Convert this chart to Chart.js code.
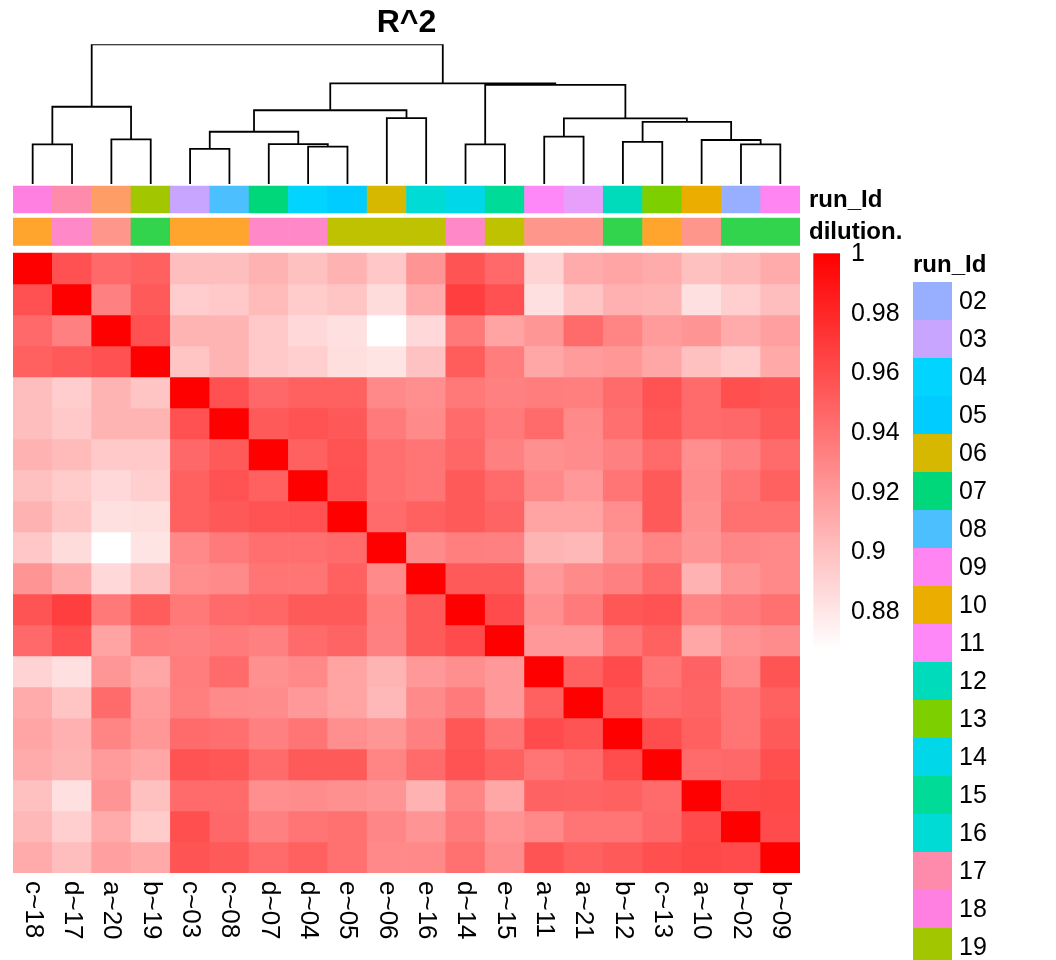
<!DOCTYPE html>
<html><head><meta charset="utf-8">
<script src="https://cdn.jsdelivr.net/npm/chart.js@4.4.0/dist/chart.umd.min.js"></script>
<style>html,body{margin:0;padding:0;background:#fff;}canvas{display:block;}</style>
</head><body>
<canvas id="c" width="1056" height="960"></canvas>
<script>
// ---------------- data ----------------
const sampleLabels = ['c~18','d~17','a~20','b~19','c~03','c~08','d~07','d~04','e~05','e~06','e~16','d~14','e~15','a~11','a~21','b~12','c~13','a~10','b~02','b~09'];
const runIds = ['18','17','20','19','03','08','07','04','05','06','16','14','15','11','21','12','13','10','02','09'];
const dilutions = ['c','d','a','b','c','c','d','d','e','e','e','d','e','a','a','b','c','a','b','b'];
const r2Values = [
 [1,.958,.945,.950,.901,.901,.907,.900,.907,.896,.923,.956,.945,.890,.911,.914,.911,.900,.904,.911],
 [.958,1,.933,.953,.893,.895,.903,.894,.898,.885,.911,.967,.958,.883,.897,.908,.906,.883,.892,.901],
 [.945,.933,1,.958,.906,.906,.895,.887,.883,.867,.887,.937,.915,.922,.944,.931,.919,.923,.911,.917],
 [.950,.953,.958,1,.897,.906,.895,.892,.884,.881,.899,.952,.935,.913,.919,.921,.913,.900,.894,.912],
 [.901,.893,.906,.897,1,.958,.946,.950,.950,.929,.926,.937,.933,.935,.934,.944,.957,.944,.959,.956],
 [.901,.895,.906,.906,.958,1,.953,.957,.954,.936,.928,.944,.936,.944,.928,.942,.955,.944,.946,.953],
 [.907,.903,.895,.895,.946,.953,1,.950,.957,.942,.939,.947,.933,.925,.927,.933,.944,.926,.933,.944],
 [.900,.894,.887,.892,.950,.957,.950,1,.958,.942,.939,.953,.944,.929,.920,.939,.953,.927,.939,.950],
 [.907,.898,.883,.884,.950,.954,.957,.958,1,.944,.950,.953,.948,.915,.915,.926,.953,.925,.941,.941],
 [.896,.885,.867,.881,.929,.936,.942,.942,.944,1,.928,.934,.933,.906,.904,.922,.931,.923,.930,.929],
 [.923,.911,.887,.899,.926,.928,.939,.939,.950,.928,1,.953,.953,.920,.928,.933,.944,.907,.923,.929],
 [.956,.967,.937,.952,.937,.944,.947,.953,.953,.934,.953,1,.961,.926,.936,.955,.957,.931,.936,.941],
 [.945,.958,.915,.935,.933,.936,.933,.944,.948,.933,.953,.961,1,.920,.920,.939,.950,.913,.924,.927],
 [.890,.883,.922,.913,.935,.944,.925,.929,.915,.906,.920,.926,.920,1,.950,.961,.939,.949,.929,.956],
 [.911,.897,.944,.919,.934,.928,.927,.920,.915,.904,.928,.936,.920,.950,1,.956,.944,.948,.939,.950],
 [.914,.908,.931,.921,.944,.942,.933,.939,.926,.922,.933,.955,.939,.961,.956,1,.960,.950,.939,.953],
 [.911,.906,.919,.913,.957,.955,.944,.953,.953,.931,.944,.957,.950,.939,.944,.960,1,.944,.946,.959],
 [.900,.883,.923,.900,.944,.944,.926,.927,.925,.923,.907,.931,.913,.949,.948,.950,.944,1,.961,.962],
 [.904,.892,.911,.894,.959,.946,.933,.939,.941,.930,.923,.936,.924,.929,.939,.939,.946,.961,1,.961],
 [.911,.901,.917,.912,.956,.953,.944,.950,.941,.929,.929,.941,.927,.956,.950,.953,.959,.962,.961,1]
];
const runIdLevels = ['02','03','04','05','06','07','08','09','10','11','12','13','14','15','16','17','18','19','20','21'];
const runIdColors = ['#98AEFF','#C8A5FF','#00D4FF','#00CCFF','#D6B800','#00D67A','#4CC0FF','#FF85F2','#EBAE00','#FF88F8','#00DBBB','#7DCF00','#00D8EA','#00DB97','#00DBD5','#FF8BAC','#FF80E0','#A2C700','#FF9D66','#E89EFB'];
const dilutionLevels = ['a','b','c','d','e'];
const dilutionColors = ['#FF968C','#33D44D','#FFA52E','#FF88C8','#BFC200'];
// hclust-style merges: negative = leaf (1-based display order), positive = earlier merge
const dendroMerge = [[-5,-6],[-8,-9],[-1,-2],[-12,-13],[-19,-20],[-7,2],[-16,-17],[-18,5],[-3,-4],[-14,-15],[1,6],[7,8],[10,12],[-10,-11],[11,14],[3,9],[4,13],[15,17],[16,18]];
const dendroHeight = [0.251,0.267,0.284,0.284,0.284,0.286,0.301,0.315,0.320,0.339,0.374,0.444,0.470,0.472,0.528,0.553,0.709,0.721,1.000];
const legendTicks = [1,0.98,0.96,0.94,0.92,0.9,0.88];
const colorMin = 0.867, colorMax = 1;
const titleText = 'R^2';

// ---------------- layout ----------------
const FONT = '"Liberation Sans", Arial, Helvetica, sans-serif';
const area = {left:13, right:800, top:44.3, bottom:873};
const rowPx = 31;
const yMax = (area.bottom - area.top) / rowPx;
const toUnit = px => (area.bottom - px) / rowPx;
const runBand = [toUnit(213), toUnit(186)];
const dilBand = [toUnit(245.5), toUnit(218)];
const leafPx = 184;
const ydMin = 1 - (area.bottom - area.top) / (leafPx - area.top);

function heatColor(v){
  const t = Math.max(0, Math.min(1, (v - colorMin) / (colorMax - colorMin)));
  const g = Math.round(255 * (1 - t));
  return 'rgb(255,' + g + ',' + g + ')';
}

const n = sampleLabels.length;
const datasets = [];
r2Values.forEach((row, i) => {
  datasets.push({
    type:'bar', label: sampleLabels[i],
    data: sampleLabels.map(() => [n - 1 - i, n - i]),
    backgroundColor: row.map(heatColor),
    borderWidth:0, grouped:false, barPercentage:1, categoryPercentage:1,
    xAxisID:'x', yAxisID:'y'
  });
});
datasets.push({
  type:'bar', label:'run_Id',
  data: sampleLabels.map(() => runBand.slice()),
  backgroundColor: runIds.map(id => runIdColors[runIdLevels.indexOf(id)]),
  borderWidth:0, grouped:false, barPercentage:1, categoryPercentage:1, xAxisID:'x', yAxisID:'y'
});
datasets.push({
  type:'bar', label:'dilution.',
  data: sampleLabels.map(() => dilBand.slice()),
  backgroundColor: dilutions.map(d => dilutionColors[dilutionLevels.indexOf(d)]),
  borderWidth:0, grouped:false, barPercentage:1, categoryPercentage:1, xAxisID:'x', yAxisID:'y'
});
// dendrogram
const nodeX = [], nodeH = [];
function childPos(c){ return c < 0 ? {x: -c - 1, h: 0} : {x: nodeX[c - 1], h: nodeH[c - 1]}; }
dendroMerge.forEach((m, k) => {
  const a = childPos(m[0]), b = childPos(m[1]), h = dendroHeight[k];
  nodeX.push((a.x + b.x) / 2); nodeH.push(h);
  datasets.push({
    type:'line', label:'node' + (k + 1),
    data:[{x:a.x, y:a.h},{x:a.x, y:h},{x:b.x, y:h},{x:b.x, y:b.h}],
    borderColor:'#000', borderWidth:1.8, pointRadius:0, fill:false, tension:0,
    borderCapStyle:'butt', borderJoinStyle:'miter',
    xAxisID:'xd', yAxisID:'yd'
  });
});

const textPlugin = {
  id:'textPlugin',
  afterDraw(chart){
    const ctx = chart.ctx, xs = chart.scales.x;
    ctx.save();
    ctx.fillStyle = '#000';
    // title
    ctx.font = 'bold 32px ' + FONT;
    ctx.textAlign = 'center'; ctx.textBaseline = 'middle';
    ctx.fillText(titleText, (area.left + area.right) / 2, 23);
    // annotation names
    const ys = chart.scales.y;
    ctx.font = 'bold 24px ' + FONT;
    ctx.textAlign = 'left';
    ctx.fillText('run_Id', 809, ys.getPixelForValue((runBand[0] + runBand[1]) / 2) + 1);
    ctx.fillText('dilution.', 809, ys.getPixelForValue((dilBand[0] + dilBand[1]) / 2) + 1);
    // column labels
    ctx.font = '26px ' + FONT;
    sampleLabels.forEach((s, j) => {
      const x = xs.getPixelForValue(j);
      ctx.save();
      ctx.translate(x, 881);
      ctx.rotate(Math.PI / 2);
      ctx.textAlign = 'left'; ctx.textBaseline = 'middle';
      ctx.fillText(s, 0, 0);
      ctx.restore();
    });
    // colour bar legend
    const cb = {x:813.3, w:26.7, top:253.3, bottom:650};
    const grad = ctx.createLinearGradient(0, cb.top, 0, cb.bottom);
    grad.addColorStop(0, heatColor(colorMax));
    grad.addColorStop(1, heatColor(colorMin));
    ctx.fillStyle = grad;
    ctx.fillRect(cb.x, cb.top, cb.w, cb.bottom - cb.top);
    ctx.fillStyle = '#000';
    ctx.font = '25px ' + FONT;
    ctx.textAlign = 'left'; ctx.textBaseline = 'middle';
    legendTicks.forEach(v => {
      const y = cb.top + (colorMax - v) / (colorMax - colorMin) * (cb.bottom - cb.top);
      ctx.fillText(String(v), 851, y + 1);
    });
    // run_Id legend
    ctx.font = 'bold 24px ' + FONT;
    ctx.fillText('run_Id', 913, 265);
    ctx.font = '25px ' + FONT;
    runIdLevels.forEach((lv, k) => {
      const y = 282 + k * 38;
      ctx.fillStyle = runIdColors[k];
      ctx.fillRect(913, y, 39, 38);
      ctx.fillStyle = '#000';
      ctx.fillText(lv, 959, y + 20);
    });
    ctx.restore();
  }
};

new Chart(document.getElementById('c'), {
  type:'bar',
  data:{ labels: sampleLabels, datasets },
  options:{
    responsive:false, animation:false, devicePixelRatio:1,
    layout:{ padding:{ left:area.left, right:1056 - area.right, top:area.top, bottom:960 - area.bottom } },
    plugins:{ legend:{display:false}, tooltip:{enabled:false}, title:{display:false} },
    scales:{
      x:{ type:'category', display:false, offset:true, grid:{display:false} },
      y:{ type:'linear', display:false, min:0, max:yMax },
      xd:{ type:'linear', display:false, offset:false, min:-0.5, max:n - 0.5 },
      yd:{ type:'linear', display:false, offset:false, min:ydMin, max:1 }
    }
  },
  plugins:[textPlugin]
});
</script>
</body></html>
